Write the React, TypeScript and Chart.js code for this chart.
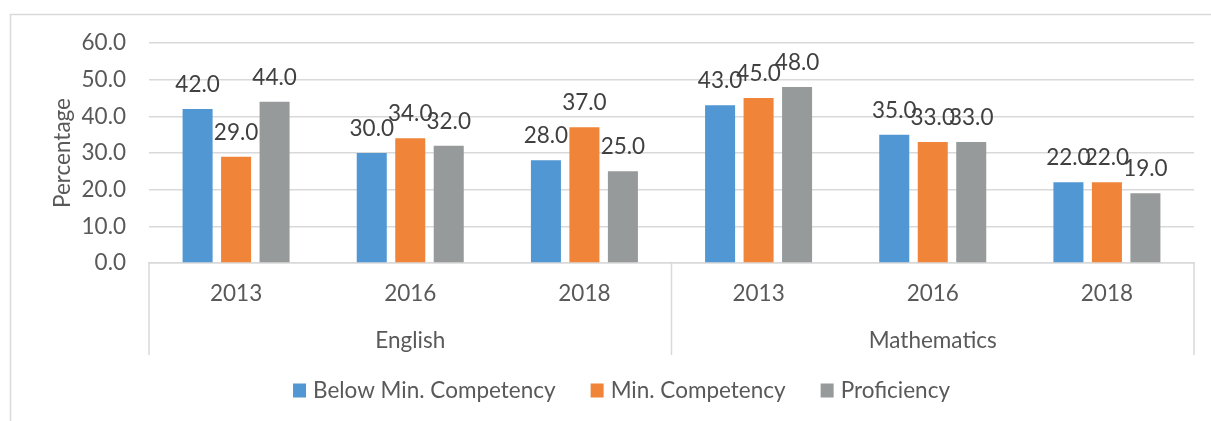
import React, { useEffect, useRef } from "react";
import { Chart, registerables } from "chart.js";

Chart.register(...registerables);

const categories = ["2013", "2016", "2018", "2013", "2016", "2018"];
const groups = ["English", "Mathematics"];
const belowMin = [42, 30, 28, 43, 35, 22];
const minComp = [29, 34, 37, 45, 33, 22];
const proficiency = [44, 32, 25, 48, 33, 19];
const seriesNames = ["Below Min. Competency", "Min. Competency", "Proficiency"];
const seriesColors = ["#5097D3", "#F08439", "#979A9A"];
const yTicks = [0, 10, 20, 30, 40, 50, 60];

const FONT = "Lato, 'Open Sans', sans-serif";
const FS = 22.5;
const LINE = "#D9D9D9";

const decorPlugin = {
  id: "decor",
  beforeDraw(chart: any) {
    const ctx = chart.ctx;
    ctx.save();
    ctx.strokeStyle = LINE;
    ctx.lineWidth = 1.5;
    ctx.beginPath();
    ctx.moveTo(10.5, chart.height);
    ctx.lineTo(10.5, 14.5);
    ctx.lineTo(chart.width, 14.5);
    ctx.stroke();
    ctx.restore();
  },
  afterDraw(chart: any) {
    const ctx = chart.ctx;
    const x = chart.scales.x;
    const area = chart.chartArea;
    const mid = (x.getPixelForValue(2) + x.getPixelForValue(3)) / 2;
    const seps = [area.left, mid, area.right];
    ctx.save();
    ctx.strokeStyle = LINE;
    ctx.lineWidth = 1.5;
    seps.forEach((sx) => {
      ctx.beginPath();
      ctx.moveTo(sx, area.bottom);
      ctx.lineTo(sx, 355);
      ctx.stroke();
    });
    // group labels
    ctx.fillStyle = "#595959";
    ctx.font = `${FS}px ${FONT}`;
    ctx.textAlign = "center";
    ctx.textBaseline = "middle";
    ctx.fillText(groups[0], (area.left + mid) / 2, 341);
    ctx.fillText(groups[1], (mid + area.right) / 2, 341);

    // data labels
    ctx.fillStyle = "#404040";
    ctx.textBaseline = "alphabetic";
    chart.data.datasets.forEach((ds: any, i: number) => {
      const meta = chart.getDatasetMeta(i);
      meta.data.forEach((bar: any, j: number) => {
        ctx.fillText(Number(ds.data[j]).toFixed(1), bar.x, bar.y - 17);
      });
    });

    // legend
    ctx.font = `${FS}px ${FONT}`;
    ctx.textAlign = "left";
    ctx.textBaseline = "middle";
    const box = 13;
    const gapText = 7;
    const gapItem = 35;
    const widths = chart.data.datasets.map((ds: any) => ctx.measureText(ds.label).width);
    let total = 0;
    widths.forEach((w: number, i: number) => {
      total += box + gapText + w + (i < widths.length - 1 ? gapItem : 0);
    });
    let lx = 621.5 - total / 2;
    const ly = 390.5;
    chart.data.datasets.forEach((ds: any, i: number) => {
      ctx.fillStyle = ds.backgroundColor;
      ctx.fillRect(lx, ly - 7, box, 14);
      ctx.fillStyle = "#595959";
      ctx.fillText(ds.label, lx + box + gapText, ly);
      lx += box + gapText + widths[i] + gapItem;
    });
    ctx.restore();
  },
};

export default function App() {
  const ref = useRef<HTMLCanvasElement | null>(null);
  useEffect(() => {
    if (!ref.current) return;
    const seriesData = [belowMin, minComp, proficiency];
    const chart = new Chart(ref.current, {
      type: "bar",
      data: {
        labels: categories,
        datasets: seriesData.map((d, i) => ({
          label: seriesNames[i],
          data: d,
          backgroundColor: seriesColors[i],
          borderWidth: 0,
          categoryPercentage: 0.663,
          barPercentage: 0.78,
        })),
      },
      options: {
        animation: false,
        responsive: false,
        devicePixelRatio: 1,
        layout: { padding: { top: 43, left: 46, right: 17, bottom: 0 } },
        plugins: { legend: { display: false }, tooltip: { enabled: false } },
        scales: {
          x: {
            grid: { display: false, drawTicks: false },
            border: { display: true, color: LINE, width: 1.5 },
            ticks: { color: "#595959", font: { family: FONT, size: FS }, padding: 17, maxRotation: 0 },
            afterFit: (s: any) => {
              s.height = 158;
            },
          },
          y: {
            min: 0,
            max: 60,
            afterBuildTicks: (s: any) => {
              s.ticks = yTicks.map((v) => ({ value: v }));
            },
            grid: { color: LINE, lineWidth: 1.5, drawTicks: false },
            border: { display: false },
            ticks: {
              color: "#595959",
              font: { family: FONT, size: FS },
              padding: 23,
              callback: (v: any) => Number(v).toFixed(1),
            },
            title: {
              display: true,
              text: "Percentage",
              color: "#595959",
              font: { family: FONT, size: FS },
              padding: { top: 3, bottom: 3 },
            },
            afterFit: (s: any) => {
              s.width = 103;
            },
          },
        },
      },
      plugins: [decorPlugin],
    });
    return () => chart.destroy();
  }, []);
  return (
    <div style={{ position: "absolute", left: 0, top: 0, width: 1211, height: 421, background: "#fff" }}>
      <canvas ref={ref} width={1211} height={421} />
    </div>
  );
}
